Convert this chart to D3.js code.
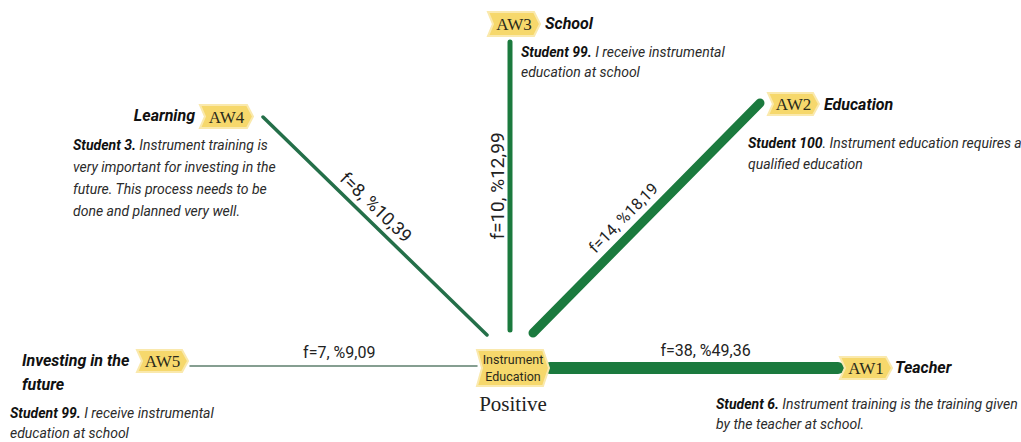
<!DOCTYPE html>
<html>
<head>
<meta charset="utf-8">
<script src="https://cdn.jsdelivr.net/npm/d3@7"></script>
<style>
  body { margin: 0; background: #fff; }
  svg { display: block; }
</style>
</head>
<body>
<div id="chart"></div>
<script>
/* thematic map: positive views on instrument education */

// DATA
var codes = ["AW1", "AW2", "AW3", "AW4", "AW5"];
var themes = [["Teacher"], ["Education"], ["School"], ["Learning"], ["Investing in the", "future"]];
var freqs = [38, 14, 10, 8, 7];
var percents = ["49,36", "18,19", "12,99", "10,39", "9,09"];
var quoteStudents = ["Student 6.", "Student 100", "Student 99.", "Student 3.", "Student 99."];
var quoteLines = [
  [" Instrument training is the training given", "by the teacher at school."],
  [". Instrument education requires a", "qualified education"],
  [" I receive instrumental", "education at school"],
  [" Instrument training is", "very important for investing in the", "future. This process needs to be", "done and planned very well."],
  [" I receive instrumental", "education at school"]
];
var centerLabel = ["Instrument", "Education"];
var centerValence = "Positive";

// LAYOUT (positions only)
var width = 1021, height = 442;
var hub = {x: 477, y: 350, w: 66, h: 36};
var edgeLayout = [
  {x1: 550, y1: 368, x2: 838, y2: 368, t: 0.54, off: -12, fs: 16, color: "#1b7a3e"},
  {x1: 533, y1: 333, x2: 760, y2: 103, t: 0.45, off: -11, fs: 16, color: "#1b7a3e"},
  {x1: 510, y1: 330, x2: 510, y2: 42, t: 0.50, off: -6, fs: 19, color: "#1b7a3e"},
  {x1: 487, y1: 335, x2: 263, y2: 117, t: 0.46, off: -8, fs: 18, color: "#246f49"},
  {x1: 477, y1: 366, x2: 190, y2: 366, t: 0.52, off: -8, fs: 16, color: "#5d7f6d"}
];
var tagLayout = [
  {x: 840, y: 357, w: 46, h: 22},
  {x: 768, y: 93, w: 45, h: 22},
  {x: 488, y: 12, w: 46, h: 24},
  {x: 200, y: 105, w: 47, h: 23},
  {x: 137, y: 350, w: 45, h: 22}
];
var themeLayout = [
  {x: 895, y: 373, anchor: "start", lh: 24},
  {x: 824, y: 110, anchor: "start", lh: 24},
  {x: 545, y: 29, anchor: "start", lh: 24},
  {x: 195, y: 121, anchor: "end", lh: 24},
  {x: 22, y: 366, anchor: "start", lh: 24}
];
var quoteLayout = [
  {x: 716, y: 409, lh: 20},
  {x: 748, y: 148, lh: 21},
  {x: 521, y: 57, lh: 20},
  {x: 73, y: 150, lh: 22},
  {x: 10, y: 418, lh: 20}
];

var sansFont = "Roboto, 'Liberation Sans', sans-serif";
var serifFont = "'Liberation Serif', 'DejaVu Serif', serif";

// stroke width follows frequency
var strokeScale = d3.scaleLinear()
  .domain([7, 8, 10, 14, 38])
  .range([1.5, 3.5, 5, 9, 12]);

var svg = d3.select("#chart").append("svg")
    .attr("width", width)
    .attr("height", height);

var rows = codes.map(function(c, i) {
  return {code: c, theme: themes[i], f: freqs[i], pct: percents[i],
          student: quoteStudents[i], lines: quoteLines[i],
          edge: edgeLayout[i], tag: tagLayout[i], th: themeLayout[i], q: quoteLayout[i]};
});

// tag shape: notched left, pointed right
function tagPath(w, h) {
  return "M0,0 L" + w + ",0 L" + (w + 6) + "," + (h / 2) + " L" + w + "," + h +
    " L0," + h + " L5," + (h / 2) + " Z";
}

// edges
svg.selectAll(".edge")
  .data(rows)
  .enter().append("line")
    .attr("class", "edge")
    .attr("x1", function(d) { return d.edge.x1; })
    .attr("y1", function(d) { return d.edge.y1; })
    .attr("x2", function(d) { return d.edge.x2; })
    .attr("y2", function(d) { return d.edge.y2; })
    .style("stroke", function(d) { return d.edge.color; })
    .style("stroke-width", function(d) { return strokeScale(d.f) + "px"; })
    .style("stroke-linecap", "round");

// edge labels along the line
svg.selectAll(".edge-label")
  .data(rows)
  .enter().append("text")
    .attr("class", "edge-label")
    .attr("transform", function(d) {
      var e = d.edge, ax = e.x1, ay = e.y1, bx = e.x2, by = e.y2;
      if (bx - ax < 0) { ax = e.x2; ay = e.y2; bx = e.x1; by = e.y1; }
      var ang = Math.atan2(by - ay, bx - ax) * 180 / Math.PI;
      var px = ax + (bx - ax) * e.t, py = ay + (by - ay) * e.t;
      return "translate(" + px + "," + py + ") rotate(" + ang + ")";
    })
    .attr("y", function(d) { return d.edge.off; })
    .attr("text-anchor", "middle")
    .attr("font-family", sansFont)
    .attr("font-size", function(d) { return d.edge.fs + "px"; })
    .attr("fill", "#222")
    .text(function(d) { return "f=" + d.f + ", %" + d.pct; });

// code tags
var tags = svg.selectAll(".tag")
  .data(rows)
  .enter().append("g")
    .attr("class", "tag")
    .attr("transform", function(d) { return "translate(" + d.tag.x + "," + d.tag.y + ")"; });

tags.append("path")
    .attr("d", function(d) { return tagPath(d.tag.w, d.tag.h); })
    .style("fill", "#f6d86c")
    .style("stroke", "#fae9ad")
    .style("stroke-width", "2px");

tags.append("text")
    .attr("x", function(d) { return d.tag.w / 2 + 3; })
    .attr("y", function(d) { return d.tag.h / 2 + 6; })
    .attr("text-anchor", "middle")
    .attr("font-family", serifFont)
    .attr("font-size", "17px")
    .attr("fill", "#2a2a1a")
    .text(function(d) { return d.code; });

// theme names
svg.selectAll(".theme")
  .data(rows)
  .enter().append("text")
    .attr("class", "theme")
    .attr("text-anchor", function(d) { return d.th.anchor; })
    .attr("font-family", sansFont)
    .attr("font-size", "16px")
    .attr("font-weight", "bold")
    .attr("font-style", "italic")
    .attr("fill", "#111")
    .each(function(d) {
      var t = d3.select(this);
      d.theme.forEach(function(line, k) {
        t.append("tspan")
          .attr("x", d.th.x)
          .attr("y", d.th.y + k * d.th.lh)
          .text(line);
      });
    });

// student quotes
svg.selectAll(".quote")
  .data(rows)
  .enter().append("text")
    .attr("class", "quote")
    .attr("font-family", sansFont)
    .attr("font-size", "14px")
    .attr("font-style", "italic")
    .attr("fill", "#2b2b2b")
    .each(function(d) {
      var t = d3.select(this);
      d.lines.forEach(function(line, k) {
        if (k === 0) {
          t.append("tspan")
            .attr("x", d.q.x)
            .attr("y", d.q.y)
            .attr("font-weight", "bold")
            .attr("fill", "#111")
            .text(d.student);
          t.append("tspan").text(line);
        } else {
          t.append("tspan")
            .attr("x", d.q.x)
            .attr("y", d.q.y + k * d.q.lh)
            .text(line);
        }
      });
    });

// central node
var hubG = svg.append("g")
    .attr("transform", "translate(" + hub.x + "," + hub.y + ")");

hubG.append("path")
    .attr("d", tagPath(hub.w, hub.h))
    .style("fill", "#f6d86c")
    .style("stroke", "#fae9ad")
    .style("stroke-width", "2px");

hubG.selectAll("text.hub-label")
  .data(centerLabel)
  .enter().append("text")
    .attr("class", "hub-label")
    .attr("x", hub.w / 2 + 3)
    .attr("y", function(d, i) { return 14 + i * 17; })
    .attr("text-anchor", "middle")
    .attr("font-family", sansFont)
    .attr("font-size", "12.5px")
    .attr("fill", "#2a2a1a")
    .text(function(d) { return d; });

svg.append("text")
    .attr("x", hub.x + hub.w / 2 + 3)
    .attr("y", 411)
    .attr("text-anchor", "middle")
    .attr("font-family", serifFont)
    .attr("font-size", "21px")
    .attr("fill", "#222")
    .text(centerValence);
</script>
</body>
</html>
